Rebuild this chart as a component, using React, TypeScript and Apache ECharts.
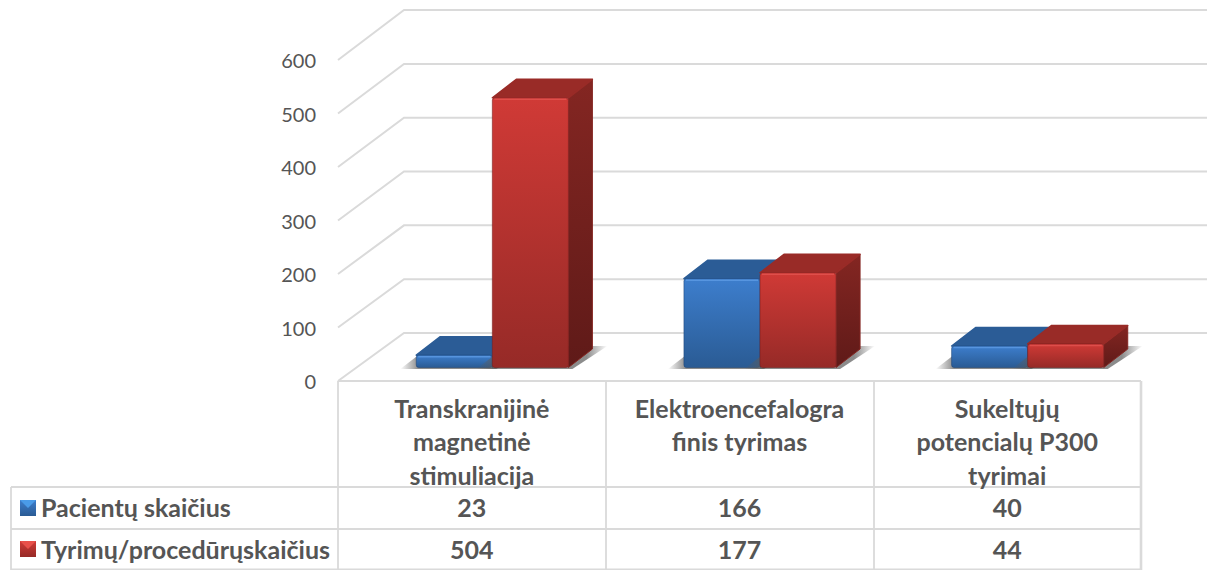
import React, { useEffect, useRef } from "react";
import * as echarts from "echarts";

const categories = ["Transkranijinė\nmagnetinė\nstimuliacija", "Elektroencefalogra\nfinis tyrimas", "Sukeltųjų\npotencialų P300\ntyrimai"];
const seriesNames = ["Pacientų skaičius", "Tyrimų/procedūrųskaičius"];
const pacientai = [23, 166, 40];
const tyrimai = [504, 177, 44];
const ticks = [0, 100, 200, 300, 400, 500, 600];

const W = 1211, H = 570;
const G = { left: 338, top: 60, right: 1141, bottom: 381 };
const WALL = { dx: 66, dy: -48, stretch: 0.006 };
const BAR = { shiftX: 20.5, shiftY: -13.5, depthX: 24, depthY: -18.5 };
const LINE = "#dadada";
const TEXT = "#555555";
const FONT = "Lato";
const TABLE_SIZE = 25;

const pal = [
  { ft: "#3d7ecd", fb: "#2a5b94", top: "#2b5c96", st: "#234c7c", sb: "#1b3a5f", edge: "rgba(30,70,120,0.55)", hi: "rgba(110,170,240,0.55)", key: "#4a9be8" },
  { ft: "#d03a36", fb: "#962a27", top: "#992b27", st: "#842622", sb: "#5f1a18", edge: "rgba(120,30,30,0.55)", hi: "rgba(240,100,95,0.5)", key: "#e8504a" },
];

const grad = (a: string, b: string) =>
  new echarts.graphic.LinearGradient(0, 0, 0, 1, [{ offset: 0, color: a }, { offset: 1, color: b }]);

const renderBar = (si: number) => (_: any, api: any) => {
  const c = pal[si];
  const top = api.coord([api.value(0), api.value(1)]);
  const base = api.coord([api.value(0), 0]);
  const bw = api.size([1, 0])[0] * 0.2842;
  const x0 = top[0] + BAR.shiftX + (si === 0 ? -bw : 0);
  const x1 = x0 + bw;
  const yT = top[1] + BAR.shiftY;
  const yB = base[1] + BAR.shiftY;
  const { depthX: dx, depthY: dy } = BAR;
  const shadow = new echarts.graphic.LinearGradient(0, 0, 1, 0, [
    { offset: 0, color: "rgba(90,90,90,0)" },
    { offset: 0.14, color: "rgba(90,90,90,0.7)" },
    { offset: 0.84, color: "rgba(90,90,90,0.7)" },
    { offset: 1, color: "rgba(90,90,90,0)" },
  ]);
  return {
    type: "group",
    children: [
      {
        type: "polygon",
        shape: { points: [[x0 - 16, yB + 1.5], [x1 + 4, yB + 1.5], [x1 + dx + 15, yB + dy - 3], [x0 + 14, yB + dy - 3]] },
        style: { fill: shadow },
      },
      {
        type: "polygon",
        shape: { points: [[x1, yT], [x1 + dx, yT + dy], [x1 + dx, yB + dy], [x1, yB]] },
        style: { fill: grad(c.st, c.sb), stroke: c.st, lineWidth: 1, lineJoin: "round" },
      },
      {
        type: "polygon",
        shape: { points: [[x0, yT], [x0 + dx, yT + dy], [x1 + dx, yT + dy], [x1, yT]] },
        style: { fill: c.top, stroke: c.top, lineWidth: 1.5, lineJoin: "round" },
      },
      {
        type: "rect",
        shape: { x: x0, y: yT, width: bw, height: yB - yT, r: 2.5 },
        style: { fill: grad(c.ft, c.fb), stroke: c.edge, lineWidth: 1 },
      },
      {
        type: "line",
        shape: { x1: x0 + 2, y1: yT + 1.5, x2: x1 - 2, y2: yT + 1.5 },
        style: { stroke: c.hi, lineWidth: 1.5 },
      },
    ],
  };
};

const renderWall = (_: any, api: any) => {
  const a = api.coord([0, api.value(0)]);
  const x0 = G.left, y0 = a[1];
  const backY = y0 + WALL.dy - (G.bottom - y0) * WALL.stretch;
  const pts = [[x0, y0], [x0 + WALL.dx, backY], [W - 4, backY]];
  return { type: "polyline", shape: { points: pts }, style: { fill: null, stroke: LINE, lineWidth: 2 } };
};

const renderCell = (si: number) => (_: any, api: any) => {
  const p = api.coord([api.value(0), 0]);
  return {
    type: "text",
    x: p[0],
    y: si === 0 ? 507 : 549,
    style: {
      text: String(api.value(1)),
      fill: TEXT,
      font: `700 ${TABLE_SIZE}px ${FONT}`,
      align: "center",
      verticalAlign: "middle",
    },
  };
};

function buildOption() {
  const vLines = [G.left, 606, 874];
  const hLines = [{ y: 381, x: G.left }, { y: 487, x: 11 }, { y: 529, x: 11 }];
  const line = (x1: number, y1: number, x2: number, y2: number, w = 1.8) => ({
    type: "line",
    shape: { x1, y1, x2, y2 },
    style: { stroke: LINE, lineWidth: w },
    silent: true,
  });
  const key = (y: number, c: (typeof pal)[0]) => ({
    type: "group",
    children: [
      { type: "rect", shape: { x: 20, y, width: 16, height: 16 }, style: { fill: grad(c.ft, c.fb) } },
      { type: "polygon", shape: { points: [[20, y], [36, y], [28, y + 8]] }, style: { fill: c.key } },
    ],
  });
  const rowLabel = (name: string, y: number) => ({
    type: "text",
    x: 41,
    y,
    style: { text: name, fill: TEXT, font: `700 ${TABLE_SIZE}px ${FONT}`, verticalAlign: "middle", align: "left" },
  });
  return {
    animation: false,
    backgroundColor: "#ffffff",
    grid: { left: G.left, top: G.top, width: G.right - G.left, height: G.bottom - G.top },
    xAxis: {
      type: "category",
      data: categories,
      axisLine: { show: false },
      axisTick: { show: false },
      splitLine: { show: false },
      axisLabel: {
        interval: 0,
        margin: 10,
        color: TEXT,
        fontFamily: FONT,
        fontWeight: 700,
        fontSize: TABLE_SIZE,
        lineHeight: 33.5,
        verticalAlign: "top",
      },
    },
    yAxis: {
      type: "value",
      min: 0,
      max: 600,
      interval: 100,
      axisLine: { show: false },
      axisTick: { show: false },
      splitLine: { show: false },
      axisLabel: { margin: 22, color: TEXT, fontFamily: FONT, fontSize: 20 },
    },
    series: [
      { type: "custom", name: "wall", silent: true, clip: false, z: 1, data: ticks.map((t) => [t]), encode: { y: 0 }, renderItem: renderWall },
      { type: "custom", name: seriesNames[0], clip: false, z: 2, data: pacientai.map((v, i) => [i, v]), encode: { x: 0, y: 1 }, renderItem: renderBar(0) },
      { type: "custom", name: seriesNames[1], clip: false, z: 3, data: tyrimai.map((v, i) => [i, v]), encode: { x: 0, y: 1 }, renderItem: renderBar(1) },
      { type: "custom", clip: false, z: 4, data: pacientai.map((v, i) => [i, v]), encode: { x: 0, y: 1 }, renderItem: renderCell(0) },
      { type: "custom", clip: false, z: 4, data: tyrimai.map((v, i) => [i, v]), encode: { x: 0, y: 1 }, renderItem: renderCell(1) },
    ],
    graphic: [
      ...hLines.map((h) => line(h.x, h.y, G.right, h.y)),
      line(11, 569.5, G.right, 569.5),
      line(11, 487, 11, H),
      ...vLines.map((x) => line(x, G.bottom, x, H)),
      line(G.right, G.bottom, G.right, H, 2.6),
      key(500, pal[0]),
      key(541, pal[1]),
      rowLabel(seriesNames[0], 507),
      rowLabel(seriesNames[1], 549),
    ],
  };
}

export default function App() {
  const ref = useRef<HTMLDivElement>(null);
  useEffect(() => {
    const chart = echarts.init(ref.current!, undefined, { renderer: "svg" });
    chart.setOption(buildOption() as any);
    return () => chart.dispose();
  }, []);
  return <div ref={ref} style={{ position: "fixed", left: 0, top: 0, width: W, height: H }} />;
}
